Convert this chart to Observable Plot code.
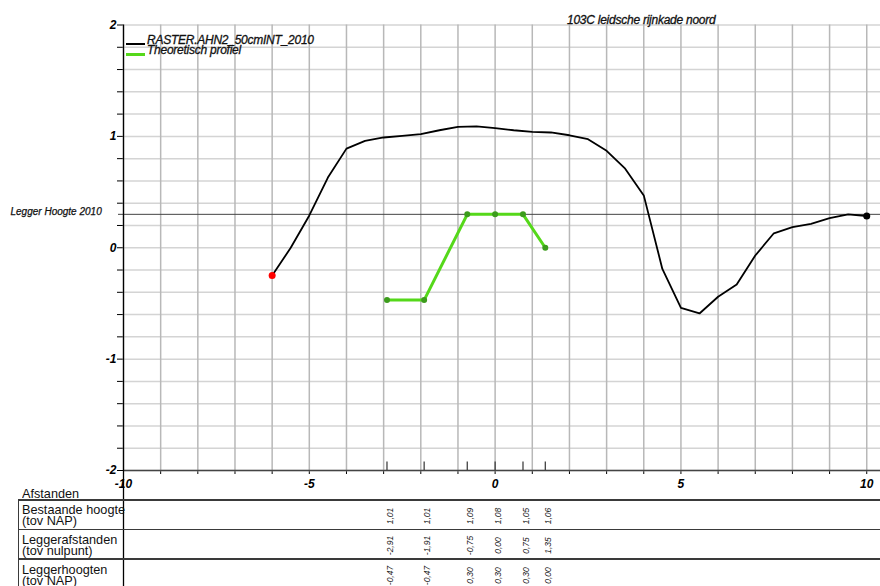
<!DOCTYPE html>
<html><head><meta charset="utf-8">
<script src="https://cdn.jsdelivr.net/npm/d3@7"></script>
<script src="https://cdn.jsdelivr.net/npm/@observablehq/plot@0.6"></script>
<style>
body{margin:0;background:#fff;}
#wrap{position:relative;width:880px;height:586px;overflow:hidden;font-family:"Liberation Sans",Arial,sans-serif;color:#000;}
#wrap svg{position:absolute;left:0;top:0;}
#wrap svg g[aria-label^="y-axis"] text,#wrap svg g[aria-label^="x-axis"] text{font-weight:bold;font-style:italic;font-size:12px;}
.abs{position:absolute;white-space:nowrap;}
.it{font-style:italic;font-size:12px;line-height:10px;letter-spacing:-0.25px;color:#111;-webkit-text-stroke:0.3px #111;}
.tl{font-size:13.5px;line-height:11px;height:11px;transform:scaleX(0.94);transform-origin:0 0;color:#111;}
.hl{position:absolute;left:18px;width:862px;height:1.6px;background:#3a3a3a;}
</style></head>
<body>
<div id="wrap"></div>
<script>
// ---- data ----
const seriesNames = ["RASTER.AHN2_50cmINT_2010", "Theoretisch profiel"];
const chartTitle = "103C leidsche rijnkade noord";
const leggerLabel = "Legger Hoogte 2010";
const leggerHoogte = 0.30;

const rasterX = [-6.0, -5.5, -5.0, -4.5, -4.0, -3.5, -3.0, -2.5, -2.0, -1.5, -1.0, -0.5, 0.0, 0.5, 1.0, 1.5, 2.0, 2.5, 3.0, 3.5, 4.0, 4.5, 5.0, 5.5, 6.0, 6.5, 7.0, 7.5, 8.0, 8.5, 9.0, 9.5, 10.0];
const rasterY = [-0.25, 0.0, 0.29, 0.63, 0.89, 0.96, 0.99, 1.005, 1.02, 1.055, 1.085, 1.09, 1.075, 1.055, 1.04, 1.035, 1.01, 0.975, 0.87, 0.71, 0.47, -0.19, -0.54, -0.59, -0.44, -0.33, -0.07, 0.13, 0.185, 0.215, 0.265, 0.30, 0.285];

const profX = [-2.91, -1.91, -0.75, 0.00, 0.75, 1.35];
const profY = [-0.47, -0.47, 0.30, 0.30, 0.30, 0.00];
const bestaandeHoogte = [1.01, 1.01, 1.09, 1.08, 1.05, 1.06];

const xTicks = [-10, -9, -8, -7, -6, -5, -4, -3, -2, -1, 0, 1, 2, 3, 4, 5, 6, 7, 8, 9, 10];
const xTickLabels = [-10, -5, 0, 5, 10];
const yTicks = [-2, -1.8, -1.6, -1.4, -1.2, -1, -0.8, -0.6, -0.4, -0.2, 0, 0.2, 0.4, 0.6, 0.8, 1, 1.2, 1.4, 1.6, 1.8, 2];
const yTickLabels = [-2, -1, 0, 1, 2];

const tableHeader = "Afstanden";
const tableRowLabels = [["Bestaande hoogte", "(tov NAP)"], ["Leggerafstanden", "(tov nulpunt)"], ["Leggerhoogten", "(tov NAP)"]];
const tableValues = [bestaandeHoogte, profX, profY];

// ---- build ----
const raster = rasterX.map((x, i) => ({x, y: rasterY[i]}));
const profiel = profX.map((x, i) => ({x, y: profY[i]}));
const fmt = v => v.toFixed(2).replace(".", ",");
const rowDy = [45.5, 75, 105];

const chart = Plot.plot({
  width: 880, height: 586,
  marginLeft: 123, marginRight: 0, marginTop: 24.5, marginBottom: 116,
  style: {fontFamily: "Liberation Sans, Arial, sans-serif", fontSize: "12px", background: "transparent", color: "#000"},
  x: {domain: [-10, 10.37], ticks: xTicks, tickFormat: d => xTickLabels.includes(d) ? String(d) : "", tickSize: 4, tickPadding: 5, label: null},
  y: {domain: [-2, 2], ticks: yTicks, tickFormat: d => yTickLabels.includes(d) ? String(d) : "", tickSize: 6, tickPadding: 1, label: null},
  marks: [
    Plot.ruleY(yTicks, {stroke: "#d4d4d4", strokeWidth: 1.5}),
    Plot.ruleX(xTicks, {stroke: "#b8b8b8", strokeWidth: 1.5}),
    Plot.ruleY([leggerHoogte], {stroke: "#444", strokeWidth: 1, insetLeft: -5}),
    Plot.text([{y: leggerHoogte, t: leggerLabel}], {y: "y", text: "t", frameAnchor: "left", dx: -113, dy: -2.5, textAnchor: "start", fontSize: 10, fontStyle: "italic", fill: "#111", stroke: "#111", strokeWidth: 0.25}),
    Plot.ruleY([-2], {stroke: "#444", strokeWidth: 1.3}),
    Plot.ruleX([-10], {stroke: "#000", strokeWidth: 1.3, insetBottom: -116}),
    Plot.ruleX(profX, {stroke: "#333", strokeWidth: 1.2, insetTop: 437}),
    Plot.line(raster, {x: "x", y: "y", stroke: "#000", strokeWidth: 1.8}),
    Plot.dot([raster[0]], {x: "x", y: "y", fill: "#ff0000", r: 3.5}),
    Plot.dot([raster[raster.length - 1]], {x: "x", y: "y", fill: "#000", r: 3.5}),
    Plot.line(profiel, {x: "x", y: "y", stroke: "#55d81a", strokeWidth: 3}),
    Plot.dot(profiel, {x: "x", y: "y", fill: "#3c9c1c", r: 3}),
    ...tableValues.map((vals, r) => Plot.text(profX.map((x, i) => ({x, v: vals[i]})), {
      x: "x", text: d => fmt(d.v), frameAnchor: "bottom", dy: rowDy[r], dx: 6, rotate: -90,
      fontSize: 8.5, fontStyle: "italic", fill: "#222"
    }))
  ]
});

const wrap = document.getElementById("wrap");
wrap.appendChild(chart);

function add(cls, style, text) {
  const d = document.createElement("div");
  d.className = cls;
  Object.assign(d.style, style);
  if (text != null) d.textContent = text;
  wrap.appendChild(d);
  return d;
}
// title
add("abs it", {left: "567px", top: "14.5px"}, chartTitle);
// legend
add("abs", {left: "126px", top: "42.5px", width: "19px", height: "2px", background: "#000"});
add("abs it", {left: "147px", top: "34.5px"}, seriesNames[0]);
add("abs", {left: "126px", top: "52.5px", width: "19px", height: "3px", background: "#55d81a"});
add("abs it", {left: "147px", top: "45px"}, seriesNames[1]);
// table
add("abs tl", {left: "22px", top: "488px"}, tableHeader);
add("hl", {top: "499.3px"});
add("hl", {top: "528.8px"});
add("hl", {top: "558.4px"});
add("abs", {left: "17.5px", top: "499.3px", width: "1.6px", height: "90px", background: "#3a3a3a"});
const rowTops = [503.5, 533.5, 563.5];
tableRowLabels.forEach((lines, r) => {
  lines.forEach((line, k) => add("abs tl", {left: "22px", top: (rowTops[r] + k * 11.5) + "px"}, line));
});
</script>
</body></html>
